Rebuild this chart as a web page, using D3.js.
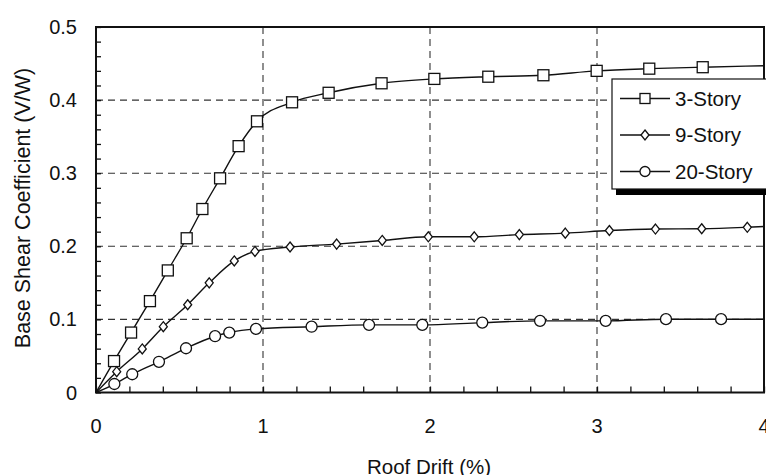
<!DOCTYPE html>
<html>
<head>
<meta charset="utf-8">
<script src="https://cdn.jsdelivr.net/npm/d3@7"></script>
<style>
  html, body { margin: 0; padding: 0; background: #fff; }
  svg { display: block; font-family: "Liberation Sans", Arial, Helvetica, sans-serif; }
</style>
</head>
<body>
<svg id="chart" width="766" height="475"></svg>
<script>
// ---- data ----
const drift3  = [0, 0.108, 0.21, 0.323, 0.43, 0.543, 0.637, 0.743, 0.854, 0.964, 1.174, 1.393, 1.71, 2.026, 2.349, 2.679, 2.998, 3.313, 3.633, 4.0];
const shear3  = [0, 0.043, 0.082, 0.125, 0.167, 0.211, 0.251, 0.293, 0.337, 0.371, 0.397, 0.41, 0.423, 0.429, 0.432, 0.434, 0.44, 0.443, 0.445, 0.447];
const drift9  = [0, 0.124, 0.277, 0.403, 0.549, 0.678, 0.828, 0.952, 1.162, 1.441, 1.714, 1.99, 2.265, 2.535, 2.81, 3.074, 3.35, 3.627, 3.9, 4.0];
const shear9  = [0, 0.0285, 0.0596, 0.09, 0.12, 0.15, 0.18, 0.193, 0.199, 0.203, 0.208, 0.213, 0.213, 0.216, 0.218, 0.2216, 0.2236, 0.224, 0.226, 0.227];
const drift20 = [0, 0.11, 0.217, 0.377, 0.539, 0.713, 0.798, 0.958, 1.291, 1.635, 1.954, 2.313, 2.659, 3.052, 3.413, 3.743, 4.0];
const shear20 = [0, 0.0116, 0.025, 0.042, 0.0605, 0.077, 0.082, 0.087, 0.09, 0.0925, 0.0925, 0.0956, 0.098, 0.098, 0.1003, 0.1003, 0.1003];
const seriesNames = ["3-Story", "9-Story", "20-Story"];
const seriesMarkers = ["square", "diamond", "circle"];
const xTickValues = [0, 1, 2, 3, 4];
const yTickValues = [0, 0.1, 0.2, 0.3, 0.4, 0.5];
const xTitle = "Roof Drift (%)";
const yTitle = "Base Shear Coefficient (V/W)";

const series = [
  { name: seriesNames[0], marker: seriesMarkers[0], pts: drift3.map((d, i) => [d, shear3[i]]) },
  { name: seriesNames[1], marker: seriesMarkers[1], pts: drift9.map((d, i) => [d, shear9[i]]) },
  { name: seriesNames[2], marker: seriesMarkers[2], pts: drift20.map((d, i) => [d, shear20[i]]) }
];

// ---- layout ----
const L = 96, R = 764, T = 27, B = 392.5;
const svg = d3.select("#chart");
const x = d3.scaleLinear().domain([0, 4]).range([L, R]);
const y = d3.scaleLinear().domain([0, 0.5]).range([B, T]);

// gridlines
const grid = svg.append("g").attr("stroke", "#333").attr("stroke-width", 1.1).attr("stroke-dasharray", "7,5");
grid.selectAll("line.v").data(xTickValues.filter(v => v > 0 && v < 4)).join("line")
  .attr("x1", d => x(d)).attr("x2", d => x(d)).attr("y1", T).attr("y2", B);
grid.selectAll("line.h").data(yTickValues.filter(v => v > 0 && v < 0.5)).join("line")
  .attr("x1", L).attr("x2", R).attr("y1", d => y(d)).attr("y2", d => y(d));

// axes with inside ticks
const yAxis = d3.axisLeft(y).tickValues(d3.range(0, 0.5001, 0.02)).tickSize(-5).tickFormat("");
const xAxis = d3.axisBottom(x).tickValues(d3.range(0, 4.0001, 0.2)).tickSize(-6).tickFormat("");
const gy = svg.append("g").attr("transform", `translate(${L},0)`).call(yAxis);
const gx = svg.append("g").attr("transform", `translate(0,${B})`).call(xAxis);
[gx, gy].forEach(g => {
  g.select(".domain").remove();
  g.selectAll(".tick line").attr("stroke", "#111").attr("stroke-width", 1.3);
});

// tick labels
svg.append("g").selectAll("text").data(yTickValues).join("text")
  .attr("x", 77).attr("y", d => y(d)).attr("dy", "0.35em")
  .attr("text-anchor", "end").attr("font-size", 20).attr("fill", "#111")
  .text(d => d === 0 ? "0" : d3.format(".1f")(d));
svg.append("g").selectAll("text").data(xTickValues).join("text")
  .attr("x", d => x(d)).attr("y", 425.5).attr("dy", "0.35em")
  .attr("text-anchor", "middle").attr("font-size", 20).attr("fill", "#111")
  .text(d => d);

// frame
svg.append("rect").attr("x", L).attr("y", T).attr("width", R - L).attr("height", B - T)
  .attr("fill", "none").attr("stroke", "#111").attr("stroke-width", 2);

// axis titles
svg.append("text").attr("x", (L + R) / 2 - 1).attr("y", 466.5).attr("dy", "0.35em")
  .attr("text-anchor", "middle").attr("font-size", 20.5).attr("fill", "#111").text(xTitle);
svg.append("text").attr("transform", "translate(22,208) rotate(-90)").attr("dy", "0.35em")
  .attr("text-anchor", "middle").attr("font-size", 21.5).attr("fill", "#111").text(yTitle);

// markers
function drawMarker(g, type, size) {
  if (type === "square") {
    g.append("rect").attr("x", -size / 2).attr("y", -size / 2).attr("width", size).attr("height", size);
  } else if (type === "diamond") {
    const w = size * 0.4, h = size * 0.5;
    g.append("path").attr("d", `M0,${-h}L${w},0L0,${h}L${-w},0Z`);
  } else {
    g.append("circle").attr("r", size / 2);
  }
}

const line = d3.line().x(d => x(d[0])).y(d => y(d[1])).curve(d3.curveMonotoneX);
series.forEach(s => {
  svg.append("path").datum(s.pts).attr("d", line)
    .attr("fill", "none").attr("stroke", "#111").attr("stroke-width", 1.4);
  const marked = s.pts.filter((p, i) => i > 0 && i < s.pts.length - 1);
  svg.append("g").selectAll("g").data(marked).join("g")
    .attr("transform", d => `translate(${x(d[0])},${y(d[1])})`)
    .attr("fill", "#fff").attr("stroke", "#111").attr("stroke-width", 1.3)
    .each(function () {
      drawMarker(d3.select(this), s.marker, s.marker === "diamond" ? 10 : 11);
    });
});

// legend
const lg = svg.append("g");
lg.append("rect").attr("x", 616).attr("y", 84).attr("width", 160).attr("height", 111).attr("fill", "#000");
lg.append("rect").attr("x", 612).attr("y", 79).attr("width", 160).attr("height", 110)
  .attr("fill", "#fff").attr("stroke", "#111").attr("stroke-width", 1.2);
const rowY = [98.5, 135, 171.5];
series.forEach((s, i) => {
  const row = lg.append("g").attr("transform", `translate(0,${rowY[i]})`);
  row.append("line").attr("x1", 620).attr("x2", 670).attr("y1", 0).attr("y2", 0)
    .attr("stroke", "#111").attr("stroke-width", 1.4);
  const m = row.append("g").attr("transform", "translate(645,0)")
    .attr("fill", "#fff").attr("stroke", "#111").attr("stroke-width", 1.3);
  drawMarker(m, s.marker, s.marker === "diamond" ? 10 : 10);
  row.append("text").attr("x", 675).attr("y", 0).attr("dy", "0.35em")
    .attr("font-size", 20.5).attr("fill", "#111").text(s.name);
});
</script>
</body>
</html>
